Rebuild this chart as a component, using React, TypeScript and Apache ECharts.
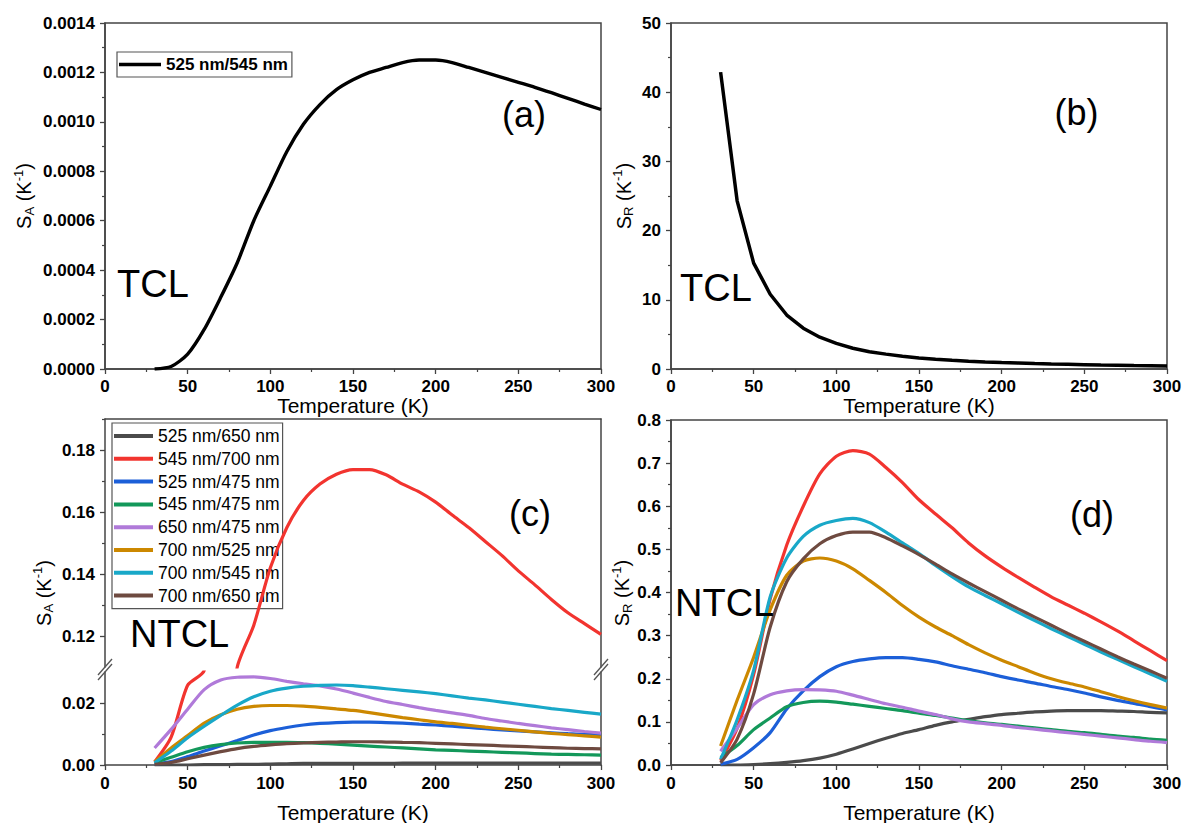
import React, { useEffect, useRef } from 'react';
import * as echarts from 'echarts';

// ---------- data ----------
const temps = [30, 40, 50, 60, 70, 80, 90, 100, 110, 120, 130, 140, 150, 160, 170, 180, 190, 200, 210, 220, 230, 240, 250, 260, 270, 280, 290, 300];

// (a) S_A, TCL, 525 nm/545 nm
const saTCL = [0.0, 0.00001, 0.00006, 0.00016, 0.00029, 0.00043, 0.0006, 0.00074, 0.00088, 0.00099, 0.00107, 0.00113, 0.00117, 0.0012, 0.00122, 0.00124, 0.00125, 0.00125, 0.00124, 0.00122, 0.0012, 0.00118, 0.00116, 0.00114, 0.001118, 0.001095, 0.001072, 0.00105];
// (b) S_R, TCL
const srTCL = [42.9, 24.3, 15.3, 10.8, 7.8, 5.9, 4.6, 3.7, 3.0, 2.5, 2.15, 1.85, 1.6, 1.4, 1.25, 1.12, 1.02, 0.93, 0.86, 0.79, 0.73, 0.68, 0.63, 0.58, 0.54, 0.5, 0.47, 0.44];

const ratioNames = ['525 nm/650 nm', '545 nm/700 nm', '525 nm/475 nm', '545 nm/475 nm', '650 nm/475 nm', '700 nm/525 nm', '700 nm/545 nm', '700 nm/650 nm'];

// (c) S_A, NTCL
const saGray = [0, 0, 0, 0.0001, 0.0001, 0.0002, 0.0002, 0.0003, 0.0004, 0.0005, 0.0005, 0.0005, 0.0005, 0.0005, 0.0005, 0.0006, 0.0006, 0.0006, 0.0006, 0.0006, 0.0006, 0.0006, 0.0006, 0.0006, 0.0006, 0.0006, 0.0006, 0.0006];
const saRed = [0.001, 0.009, 0.0257, 0.0305, 0.075, 0.11, 0.1235, 0.142, 0.155, 0.1637, 0.169, 0.1722, 0.1737, 0.1737, 0.172, 0.169, 0.1665, 0.1632, 0.159, 0.155, 0.1505, 0.146, 0.141, 0.1365, 0.1318, 0.1275, 0.124, 0.1205];
const saBlue = [0.0003, 0.0011, 0.0027, 0.0045, 0.0062, 0.0079, 0.0097, 0.0111, 0.0121, 0.0129, 0.0134, 0.0137, 0.0138, 0.0138, 0.0137, 0.0135, 0.0132, 0.0129, 0.0125, 0.0121, 0.0117, 0.0113, 0.011, 0.0107, 0.0104, 0.0101, 0.0099, 0.0097];
const saGreen = [0.0007, 0.0025, 0.0043, 0.0057, 0.0066, 0.0071, 0.0073, 0.0073, 0.0073, 0.0072, 0.007, 0.0067, 0.0064, 0.0061, 0.0058, 0.0055, 0.0052, 0.0049, 0.0047, 0.0045, 0.0043, 0.0041, 0.0039, 0.0037, 0.0035, 0.0034, 0.0033, 0.0032];
const saPurple = [0.0055, 0.0115, 0.018, 0.0243, 0.0274, 0.0283, 0.0284, 0.0279, 0.027, 0.0262, 0.0255, 0.0245, 0.0232, 0.0218, 0.0205, 0.0195, 0.0185, 0.0176, 0.0168, 0.016, 0.015, 0.0142, 0.0134, 0.0127, 0.012, 0.0114, 0.0108, 0.0103];
const saOrange = [0.001, 0.0055, 0.0095, 0.0135, 0.0162, 0.018, 0.0189, 0.0192, 0.0192, 0.019, 0.0186, 0.0181, 0.0176, 0.0169, 0.0161, 0.0153, 0.0146, 0.0139, 0.0134, 0.0128, 0.0122, 0.0117, 0.0112, 0.0107, 0.0102, 0.0098, 0.0094, 0.009];
const saCyan = [0.0007, 0.0045, 0.0088, 0.0125, 0.016, 0.0193, 0.022, 0.0238, 0.0248, 0.0254, 0.0257, 0.0258, 0.0256, 0.0251, 0.0246, 0.0241, 0.0236, 0.023, 0.0223, 0.0216, 0.021, 0.0203, 0.0196, 0.0189, 0.0182, 0.0176, 0.017, 0.0164];
const saBrown = [0.0002, 0.0008, 0.002, 0.0032, 0.0043, 0.0053, 0.006, 0.0065, 0.0069, 0.0071, 0.0073, 0.0074, 0.0075, 0.0075, 0.0074, 0.0073, 0.0072, 0.007, 0.0068, 0.0066, 0.0064, 0.0062, 0.006, 0.0058, 0.0056, 0.0054, 0.0053, 0.0052];

// (d) S_R, NTCL
const srGray = [0, 0, 0.001, 0.003, 0.006, 0.01, 0.016, 0.025, 0.037, 0.05, 0.062, 0.073, 0.082, 0.092, 0.1, 0.106, 0.112, 0.117, 0.12, 0.123, 0.125, 0.126, 0.126, 0.126, 0.125, 0.124, 0.122, 0.121];
const srRed = [0.01, 0.085, 0.21, 0.385, 0.51, 0.6, 0.675, 0.716, 0.729, 0.721, 0.69, 0.655, 0.615, 0.582, 0.55, 0.515, 0.485, 0.459, 0.435, 0.412, 0.39, 0.371, 0.352, 0.332, 0.311, 0.288, 0.265, 0.242];
const srBlue = [0.002, 0.013, 0.04, 0.075, 0.13, 0.172, 0.205, 0.228, 0.24, 0.246, 0.249, 0.249, 0.245, 0.239, 0.23, 0.222, 0.214, 0.205, 0.197, 0.19, 0.182, 0.175, 0.167, 0.158, 0.15, 0.143, 0.135, 0.128];
const srGreen = [0.017, 0.045, 0.082, 0.109, 0.135, 0.145, 0.148, 0.146, 0.141, 0.136, 0.131, 0.126, 0.12, 0.115, 0.109, 0.103, 0.098, 0.094, 0.09, 0.086, 0.082, 0.078, 0.075, 0.071, 0.067, 0.064, 0.06, 0.057];
const srPurple = [0.032, 0.085, 0.14, 0.163, 0.172, 0.175, 0.174, 0.171, 0.162, 0.152, 0.142, 0.134, 0.125, 0.117, 0.107, 0.1, 0.096, 0.092, 0.087, 0.083, 0.079, 0.075, 0.071, 0.067, 0.063, 0.059, 0.055, 0.052];
const srOrange = [0.044, 0.15, 0.25, 0.36, 0.44, 0.473, 0.48, 0.473, 0.455, 0.428, 0.4, 0.37, 0.343, 0.32, 0.3, 0.279, 0.26, 0.243, 0.228, 0.213, 0.2, 0.19, 0.181, 0.17, 0.159, 0.149, 0.14, 0.132];
const srCyan = [0.013, 0.105, 0.22, 0.39, 0.48, 0.53, 0.556, 0.567, 0.572, 0.562, 0.54, 0.515, 0.49, 0.463, 0.437, 0.413, 0.393, 0.374, 0.354, 0.335, 0.316, 0.298, 0.28, 0.262, 0.245, 0.228, 0.211, 0.194];
const srBrown = [0.005, 0.06, 0.165, 0.32, 0.425, 0.478, 0.513, 0.532, 0.54, 0.54, 0.527, 0.508, 0.488, 0.466, 0.443, 0.422, 0.402, 0.382, 0.362, 0.343, 0.324, 0.305, 0.287, 0.269, 0.251, 0.234, 0.218, 0.201];

const saNTCL = [saGray, saRed, saBlue, saGreen, saPurple, saOrange, saCyan, saBrown];
const srNTCL = [srGray, srRed, srBlue, srGreen, srPurple, srOrange, srCyan, srBrown];

// tick values
const xTicksInterval = 50;
const cUpperLabels = [0.12, 0.14, 0.16, 0.18];
const cUpperMinor = [0.13, 0.15, 0.17, 0.19];
const cLowerLabels = [0, 0.02];
const cLowerMinor = [0.01];

// ---------- styles ----------
const palette = ['#4b4b4b', '#f2342f', '#1c5fd8', '#13985a', '#b07ad9', '#cc8800', '#19a8c8', '#6e4a40'];
const FONT = '"Liberation Sans", Arial, Helvetica, sans-serif';
const AX = '#444';

function buildOption() {
  const axisLine = { show: true, onZero: false, lineStyle: { color: AX, width: 1.5 } };
  const tick = { show: true, length: 5, lineStyle: { color: AX, width: 1.3 } };
  const minor = { show: true, splitNumber: 2, length: 3, lineStyle: { color: AX, width: 1.2 } };
  const lbl = (margin: number, formatter?: any) => ({
    show: true, margin, color: '#000', fontSize: 17, fontWeight: 'bold', fontFamily: FONT, formatter,
  });

  const xMain = (gridIndex: number, margin: number) => ({
    type: 'value', gridIndex, min: 0, max: 300, interval: xTicksInterval,
    axisLine, axisTick: tick, minorTick: minor, axisLabel: lbl(margin),
    splitLine: { show: false }, minorSplitLine: { show: false },
  });

  const grid = (left: number, top: number, width: number, height: number, show: boolean) => ({
    left, top, width, height, show, borderColor: AX, borderWidth: 1.5,
    backgroundColor: 'transparent', containLabel: false, outerBoundsMode: 'none',
  });

  const grids = [
    grid(105, 23, 496, 346, true),   // a
    grid(671, 23, 496, 346, true),   // b
    grid(105, 419, 496, 248, false), // c upper
    grid(105, 672, 496, 93, false),  // c lower
    grid(671, 420, 496, 345, true),  // d
  ];

  const xAxes = [
    xMain(0, 9),
    xMain(1, 9),
    { type: 'value', gridIndex: 2, position: 'top', min: 0, max: 300, axisLine, axisTick: { show: false }, axisLabel: { show: false }, splitLine: { show: false } },
    xMain(3, 10),
    xMain(4, 10),
  ];

  const yAxes = [
    { type: 'value', gridIndex: 0, min: 0, max: 0.0014, interval: 0.0002, axisLine, axisTick: tick, minorTick: minor,
      axisLabel: lbl(10, (v: number) => v.toFixed(4)), splitLine: { show: false } },
    { type: 'value', gridIndex: 1, min: 0, max: 50, interval: 10, axisLine, axisTick: tick, minorTick: minor,
      axisLabel: lbl(10, (v: number) => String(Math.round(v))), splitLine: { show: false } },
    // c upper
    { type: 'value', gridIndex: 2, position: 'left', min: 0.11, max: 0.19, interval: 0.01, axisLine,
      axisTick: { ...tick, customValues: cUpperLabels },
      axisLabel: { ...lbl(10, (v: number) => v.toFixed(2)), customValues: cUpperLabels }, splitLine: { show: false } },
    { type: 'value', gridIndex: 2, position: 'left', min: 0.11, max: 0.19, interval: 0.01, axisLine: { show: false },
      axisTick: { show: true, length: 3, lineStyle: { color: AX, width: 1.2 }, customValues: cUpperMinor },
      axisLabel: { show: false }, splitLine: { show: false } },
    { type: 'value', gridIndex: 2, position: 'right', min: 0.11, max: 0.19, axisLine, axisTick: { show: false },
      axisLabel: { show: false }, splitLine: { show: false } },
    // c lower
    { type: 'value', gridIndex: 3, position: 'left', min: 0, max: 0.03, interval: 0.01, axisLine,
      axisTick: { ...tick, customValues: cLowerLabels },
      axisLabel: { ...lbl(10, (v: number) => v.toFixed(2)), customValues: cLowerLabels }, splitLine: { show: false } },
    { type: 'value', gridIndex: 3, position: 'left', min: 0, max: 0.03, interval: 0.01, axisLine: { show: false },
      axisTick: { show: true, length: 3, lineStyle: { color: AX, width: 1.2 }, customValues: cLowerMinor },
      axisLabel: { show: false }, splitLine: { show: false } },
    { type: 'value', gridIndex: 3, position: 'right', min: 0, max: 0.03, axisLine, axisTick: { show: false },
      axisLabel: { show: false }, splitLine: { show: false } },
    // d
    { type: 'value', gridIndex: 4, min: 0, max: 0.8, interval: 0.1, axisLine, axisTick: tick, minorTick: minor,
      axisLabel: lbl(10, (v: number) => v.toFixed(1)), splitLine: { show: false } },
  ];

  const line = (name: string, arr: number[], xi: number, yi: number, color: string, width = 3.2, smooth: number | boolean = 0.25) => ({
    type: 'line', name, xAxisIndex: xi, yAxisIndex: yi,
    data: temps.map((t, i) => [t, arr[i]]),
    showSymbol: false, symbol: 'none', clip: true, silent: true,
    smooth,
    lineStyle: { color, width }, itemStyle: { color }, emphasis: { disabled: true },
  });

  const series: any[] = [
    line('525 nm/545 nm', saTCL, 0, 0, '#000', 3.4),
    line('S_R TCL', srTCL, 1, 1, '#000', 3.5, false),
  ];
  ratioNames.forEach((n, k) => {
    series.push(line(n, saNTCL[k], 2, 2, palette[k]));
    series.push(line(n, saNTCL[k], 3, 5, palette[k]));
  });
  ratioNames.forEach((n, k) => {
    series.push(line(n, srNTCL[k], 4, 8, palette[k]));
  });

  const txt = (x: number, y: number, text: string, size: number, align = 'left', weight = 'normal') => ({
    type: 'text', x, y, z: 100, silent: true,
    style: { text, fontSize: size, fontFamily: FONT, fontWeight: weight, fill: '#000', align, verticalAlign: 'middle' },
  });

  const yTitle = (cx: number, cy: number, sub: string) => {
    const subW = sub === 'A' ? 0.667 : 0.722;
    const parts = [
      { t: 'S', size: 20, dy: 0, w: 0.667 * 20 },
      { t: sub, size: 13, dy: 5, w: subW * 13 },
      { t: ' (K', size: 20, dy: 0, w: (0.278 + 0.333 + 0.667) * 20 },
      { t: '-1', size: 13, dy: -6, w: (0.333 + 0.556) * 13 },
      { t: ')', size: 20, dy: 0, w: 0.333 * 20 },
    ];
    const total = parts.reduce((s, p) => s + p.w, 0);
    let x = -total / 2;
    const children = parts.map((p) => {
      const el = {
        type: 'text', x, y: p.dy, silent: true,
        style: { text: p.t, fontSize: p.size, fontFamily: FONT, fill: '#000', align: 'left', verticalAlign: 'middle' },
      };
      x += p.w;
      return el;
    });
    return { type: 'group', x: cx, y: cy, rotation: Math.PI / 2, z: 100, children };
  };

  const brk = (x: number) => [
    { type: 'line', z: 100, silent: true, shape: { x1: x - 7, y1: 675, x2: x + 7, y2: 659 }, style: { stroke: '#555', lineWidth: 1.3 } },
    { type: 'line', z: 100, silent: true, shape: { x1: x - 7, y1: 680, x2: x + 7, y2: 664 }, style: { stroke: '#555', lineWidth: 1.3 } },
  ];

  const elements = [
    txt(524, 114.5, '(a)', 36, 'center'),
    txt(1076.5, 112, '(b)', 36, 'center'),
    txt(530, 513, '(c)', 36, 'center'),
    txt(1092, 514.5, '(d)', 36, 'center'),
    txt(117, 284, 'TCL', 38),
    txt(680, 287.5, 'TCL', 38),
    txt(130, 634, 'NTCL', 38),
    txt(675, 603, 'NTCL', 38),
    txt(353, 405.5, 'Temperature (K)', 21, 'center'),
    txt(919, 405.5, 'Temperature (K)', 21, 'center'),
    txt(353, 812, 'Temperature (K)', 21, 'center'),
    txt(919, 812, 'Temperature (K)', 21, 'center'),
    yTitle(24, 196, 'A'),
    yTitle(623.5, 196, 'R'),
    yTitle(43.5, 593, 'A'),
    yTitle(622, 593, 'R'),
    ...brk(105),
    ...brk(601),
  ];

  return {
    animation: false,
    backgroundColor: '#fff',
    textStyle: { fontFamily: FONT },
    grid: grids,
    xAxis: xAxes,
    yAxis: yAxes,
    legend: [
      {
        show: true, data: ['525 nm/545 nm'], left: 117, top: 52, orient: 'vertical', icon: 'rect',
        itemWidth: 42, itemHeight: 3.5, itemGap: 0, padding: [4, 4, 4, 2], borderColor: '#555', borderWidth: 1.2,
        backgroundColor: 'transparent', selectedMode: false, z: 1,
        textStyle: { fontSize: 17, fontWeight: 'bold', fontFamily: FONT, color: '#000' },
      },
      {
        show: true, data: ratioNames, left: 112, top: 423, orient: 'vertical', icon: 'rect',
        itemWidth: 39, itemHeight: 4, itemGap: 4.8, padding: [4, 3, 4, 2], borderColor: '#555', borderWidth: 1.2,
        backgroundColor: 'transparent', selectedMode: false, z: 1,
        textStyle: { fontSize: 17.5, fontFamily: FONT, color: '#000' },
      },
    ],
    series,
    graphic: { elements },
  };
}

export default function App() {
  const ref = useRef<HTMLDivElement>(null);
  useEffect(() => {
    if (!ref.current) return;
    const chart = echarts.init(ref.current, null, { renderer: 'svg' });
    chart.setOption(buildOption() as any);
    return () => chart.dispose();
  }, []);
  return (
    <div
      ref={ref}
      style={{ position: 'fixed', left: 0, top: 0, width: 1186, height: 823, background: '#fff' }}
    />
  );
}
